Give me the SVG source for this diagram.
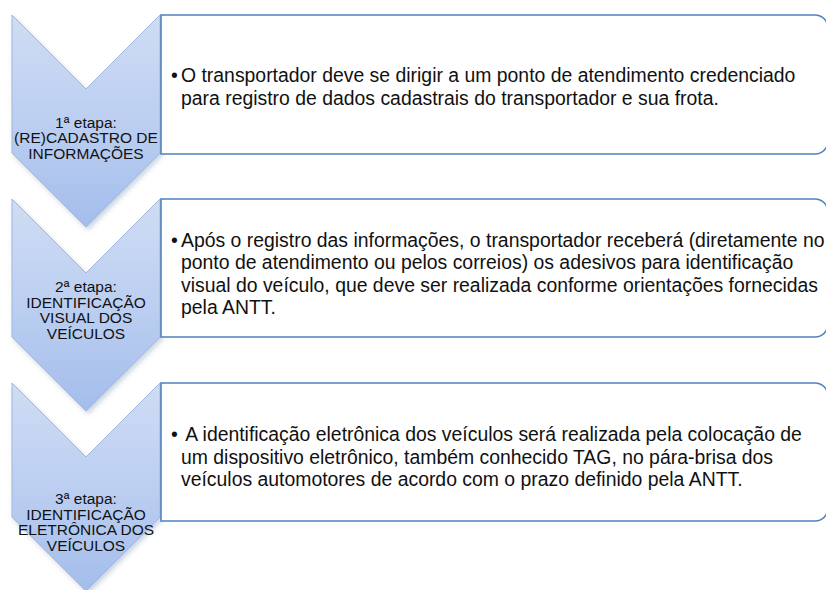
<svg xmlns="http://www.w3.org/2000/svg" width="826" height="590" viewBox="0 0 826 590">
  <defs>
    <linearGradient id="chev" x1="0" y1="0" x2="0" y2="1">
      <stop offset="0" stop-color="#cfdcf4"/>
      <stop offset="0.5" stop-color="#bccff1"/>
      <stop offset="1" stop-color="#a3bdeb"/>
    </linearGradient>
    <filter id="sh" x="-20%" y="-20%" width="140%" height="140%">
      <feDropShadow dx="2" dy="3" stdDeviation="2.5" flood-color="#6f83a8" flood-opacity="0.35"/>
    </filter>
    <style>
      .chev { fill: url(#chev); stroke: #9fb6de; stroke-width: 1; filter: url(#sh); }
      .box { fill: #ffffff; stroke: #4f81bd; stroke-width: 1.6; }
      .ct { font-family: "Liberation Sans", Arial, Helvetica, sans-serif; font-size: 15.5px; fill: #111; text-anchor: middle; }
      .bt { font-family: "Liberation Sans", Arial, Helvetica, sans-serif; font-size: 19.4px; fill: #111; }
    </style>
  </defs>

  <g id="step1">
    <path class="chev" d="M12,15 L86,89 L160,15 L160,153 L86,227 L12,153 Z"/>
    <text class="ct"><tspan x="86" y="127.5">1ª etapa:</tspan><tspan x="86" y="143">(RE)CADASTRO DE</tspan><tspan x="86" y="158.5">INFORMAÇÕES</tspan></text>
  </g>
  <g id="box1">
    <path class="box" d="M161,15 H815 A13,13 0 0 1 828,28 V141 A13,13 0 0 1 815,154 H161 Z"/>
    <text class="bt"><tspan x="171" y="82">•</tspan><tspan x="181" y="82">O transportador deve se dirigir a um ponto de atendimento credenciado</tspan><tspan x="181" y="104.5">para registro de dados cadastrais do transportador e sua frota.</tspan></text>
  </g>

  <g id="step2">
    <path class="chev" d="M12,199 L86,273 L160,199 L160,337 L86,411 L12,337 Z"/>
    <text class="ct"><tspan x="86" y="292">2ª etapa:</tspan><tspan x="86" y="307.5">IDENTIFICAÇÃO</tspan><tspan x="86" y="323">VISUAL DOS</tspan><tspan x="86" y="338.5">VEÍCULOS</tspan></text>
  </g>
  <g id="box2">
    <path class="box" d="M161,199 H815 A13,13 0 0 1 828,212 V324 A13,13 0 0 1 815,337 H161 Z"/>
    <text class="bt"><tspan x="171" y="246.5">•</tspan><tspan x="181" y="246.5">Após o registro das informações, o transportador receberá (diretamente no</tspan><tspan x="181" y="269">ponto de atendimento ou pelos correios) os adesivos para identificação</tspan><tspan x="181" y="291.5">visual do veículo, que deve ser realizada conforme orientações fornecidas</tspan><tspan x="181" y="314">pela ANTT.</tspan></text>
  </g>

  <g id="step3">
    <path class="chev" d="M12,383 L86,457 L160,383 L160,517 L86,591 L12,517 Z"/>
    <text class="ct"><tspan x="86" y="504">3ª etapa:</tspan><tspan x="86" y="519.5">IDENTIFICAÇÃO</tspan><tspan x="86" y="535">ELETRÔNICA DOS</tspan><tspan x="86" y="550.5">VEÍCULOS</tspan></text>
  </g>
  <g id="box3">
    <path class="box" d="M161,383 H815 A13,13 0 0 1 828,396 V508 A13,13 0 0 1 815,521 H161 Z"/>
    <text class="bt"><tspan x="171" y="441">•</tspan><tspan x="181" y="441"> A identificação eletrônica dos veículos será realizada pela colocação de</tspan><tspan x="181" y="463.5">um dispositivo eletrônico, também conhecido TAG, no pára-brisa dos</tspan><tspan x="181" y="486">veículos automotores de acordo com o prazo definido pela ANTT.</tspan></text>
  </g>

  <g id="connectors"></g>
</svg>
